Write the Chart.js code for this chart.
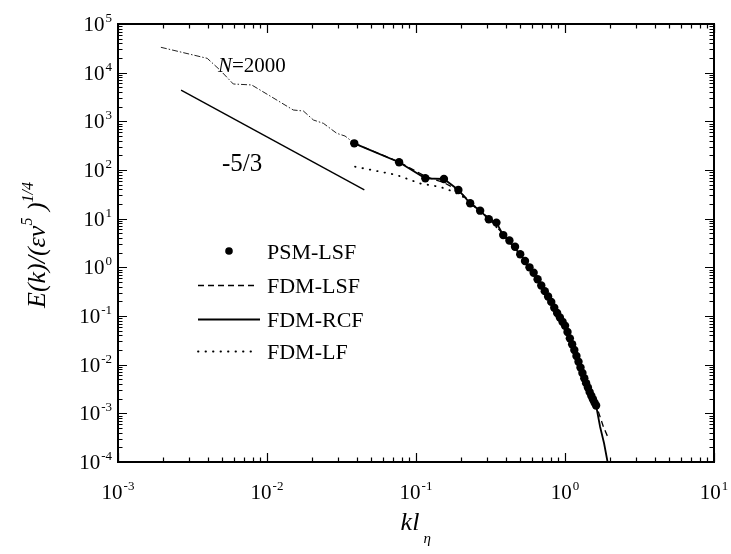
<!DOCTYPE html>
<html>
<head>
<meta charset="utf-8">
<script src="https://cdn.jsdelivr.net/npm/chart.js@4/dist/chart.umd.min.js"></script>
<style>
  html, body { margin: 0; padding: 0; background: #fff; }
  #wrap { width: 731px; height: 554px; }
</style>
</head>
<body>
<div id="wrap"><canvas id="c" width="731" height="554"></canvas></div>
<script>
// Energy spectra, normalised wavenumber k*l_eta vs E(k)/(eps*nu^5)^(1/4)

// PSM-LSF symbols
const psmK = [0.0385, 0.077, 0.1155, 0.154, 0.1925, 0.231, 0.2695, 0.308, 0.3465, 0.385,
  0.4235, 0.462, 0.5005, 0.539, 0.5775, 0.616, 0.6545, 0.693, 0.7315, 0.77,
  0.8085, 0.847, 0.8855, 0.924, 0.9625, 1.001, 1.0395, 1.078, 1.1165, 1.155,
  1.1935, 1.232, 1.2705, 1.309, 1.3475, 1.386, 1.4245, 1.463, 1.5015, 1.54,
  1.5785, 1.617];
const psmE = [353, 144, 67.5, 65.3, 38.8, 20.7, 14.6, 9.7, 8.3, 4.6,
  3.55, 2.65, 1.86, 1.35, 1.0, 0.776, 0.569, 0.422, 0.324, 0.251,
  0.195, 0.148, 0.115, 0.0933, 0.0759, 0.0631, 0.0468, 0.0347, 0.0263, 0.0200,
  0.0151, 0.0115, 0.00871, 0.00676, 0.00525, 0.00417, 0.00339, 0.00275, 0.00229, 0.00195,
  0.00166, 0.00145];

// FDM-LSF (dashed)
const lsfK = [0.0385, 0.077, 0.1155, 0.154, 0.1925, 0.231, 0.308, 0.385, 0.5005, 0.616,
  0.77, 0.924, 1.078, 1.232, 1.386, 1.54, 1.617, 1.675, 1.81, 1.97];
const lsfE = [353, 146, 74, 55, 38, 22, 10.2, 4.8, 1.9, 0.78,
  0.251, 0.0933, 0.0347, 0.0115, 0.0042, 0.00195, 0.00145, 0.00108, 0.00053, 0.00029];

// FDM-RCF (solid)
const rcfK = [0.0385, 0.077, 0.1155, 0.154, 0.1925, 0.231, 0.2695, 0.308, 0.3465, 0.385,
  0.5005, 0.616, 0.77, 0.924, 1.078, 1.232, 1.386, 1.54, 1.617, 1.72, 1.83, 1.92, 1.97];
const rcfE = [353, 144, 67.5, 65.3, 38.8, 20.7, 14.6, 9.7, 8.3, 4.6,
  1.86, 0.776, 0.251, 0.0933, 0.0347, 0.0115, 0.00417, 0.00195, 0.00145, 0.00053, 0.00024, 0.00011, 0.00007];

// FDM-LF (dotted)
const lfK = [0.039, 0.0742, 0.106, 0.145, 0.178, 0.207, 0.25, 0.308, 0.385, 0.5005,
  0.616, 0.77, 0.924, 1.078, 1.232, 1.386, 1.54, 1.617];
const lfE = [117, 79, 53, 45, 36, 28, 17.5, 10, 4.7, 1.88,
  0.78, 0.251, 0.0933, 0.035, 0.0116, 0.0042, 0.00195, 0.00145];

// N=2000 reference spectrum (dash-dot)
const refK = [0.00194, 0.00397, 0.00484, 0.00594, 0.00789, 0.0105, 0.0150, 0.01754,
  0.0205, 0.0239, 0.0294, 0.0334, 0.0386];
const refE = [33200, 19700, 11300, 5850, 5590, 3310, 1710, 1630,
  1064, 910, 567, 499, 353];

// -5/3 slope guide
const slopeK = [0.00265, 0.045];
const slopeE = [4400, 39.2];

// axis ticks
const xTickValues = [1e-3, 1e-2, 1e-1, 1, 10];
const xTickExps = ['-3', '-2', '-1', '0', '1'];
const yTickValues = [1e-4, 1e-3, 1e-2, 1e-1, 1, 10, 100, 1e3, 1e4, 1e5];
const yTickExps = ['-4', '-3', '-2', '-1', '0', '1', '2', '3', '4', '5'];

const legendLabels = ['PSM-LSF', 'FDM-LSF', 'FDM-RCF', 'FDM-LF'];

const SERIF = '"Liberation Serif", "Times New Roman", serif';

function pts(xs, ys) { return xs.map((x, i) => ({ x: x, y: ys[i] })); }

function drawPow(ctx, exp, x, y, align) {
  ctx.font = '21px ' + SERIF;
  const wb = ctx.measureText('10').width;
  ctx.font = '13px ' + SERIF;
  const we = ctx.measureText(exp).width;
  const total = wb + 1 + we;
  const left = align === 'center' ? x - total / 2 : x - total;
  ctx.textAlign = 'left';
  ctx.textBaseline = 'alphabetic';
  ctx.font = '21px ' + SERIF;
  ctx.fillText('10', left, y);
  ctx.font = '13px ' + SERIF;
  ctx.fillText(exp, left + wb + 1, y - 9);
}

const framePlugin = {
  id: 'frame',
  afterDatasetsDraw(chart) {
    const ctx = chart.ctx;
    const a = chart.chartArea;
    const xs = chart.scales.x, ys = chart.scales.y;
    ctx.save();
    ctx.strokeStyle = '#000';
    ctx.fillStyle = '#000';
    // frame
    ctx.lineWidth = 2;
    ctx.strokeRect(a.left, a.top, a.right - a.left, a.bottom - a.top);
    // ticks on all four sides, pointing inward
    ctx.lineWidth = 1.2;
    ctx.beginPath();
    for (let d = -3; d <= 1; d++) {
      for (let m = 1; m <= 9; m++) {
        const v = m * Math.pow(10, d);
        if (v > 10 * 1.0001) break;
        const px = Math.round(xs.getPixelForValue(v)) + 0.5;
        const len = m === 1 ? 9 : 4.5;
        ctx.moveTo(px, a.bottom); ctx.lineTo(px, a.bottom - len);
        ctx.moveTo(px, a.top); ctx.lineTo(px, a.top + len);
      }
    }
    for (let d = -4; d <= 5; d++) {
      for (let m = 1; m <= 9; m++) {
        const v = m * Math.pow(10, d);
        if (v > 1e5 * 1.0001) break;
        const py = Math.round(ys.getPixelForValue(v)) + 0.5;
        const len = m === 1 ? 9 : 4.5;
        ctx.moveTo(a.left, py); ctx.lineTo(a.left + len, py);
        ctx.moveTo(a.right, py); ctx.lineTo(a.right - len, py);
      }
    }
    ctx.stroke();

    // tick labels
    xTickValues.forEach((v, i) => {
      drawPow(ctx, xTickExps[i], xs.getPixelForValue(v), a.bottom + 37, 'center');
    });
    yTickValues.forEach((v, i) => {
      drawPow(ctx, yTickExps[i], 112, ys.getPixelForValue(v) + 7, 'right');
    });

    // x title: k l_eta
    ctx.textAlign = 'left';
    ctx.textBaseline = 'alphabetic';
    ctx.font = 'italic 26px ' + SERIF;
    const kl = 'kl';
    const wkl = ctx.measureText(kl).width;
    const xc = 414;
    ctx.fillText(kl, xc - wkl / 2 - 4, 530);
    ctx.font = 'italic 15px ' + SERIF;
    ctx.fillText('\u03B7', xc + wkl / 2 + 0, 543);

    // y title: E(k)/(eps nu^5)^(1/4), rotated
    ctx.save();
    ctx.translate(45, 245);
    ctx.rotate(-Math.PI / 2);
    const parts = [
      { t: 'E(k)/(\u03B5\u03BD', f: 'italic 26px ', dy: 0 },
      { t: '5', f: 'italic 16px ', dy: -13 },
      { t: ' )', f: 'italic 26px ', dy: 0 },
      { t: '1/4', f: 'italic 16px ', dy: -12 }
    ];
    let tw = 0;
    parts.forEach(p => { ctx.font = p.f + SERIF; p.w = ctx.measureText(p.t).width; tw += p.w; });
    let cx = -tw / 2;
    parts.forEach(p => { ctx.font = p.f + SERIF; ctx.fillText(p.t, cx, p.dy); cx += p.w; });
    ctx.restore();

    // annotations
    ctx.font = '25px ' + SERIF;
    ctx.fillText('-5/3', 222, 171);
    ctx.font = 'italic 21px ' + SERIF;
    ctx.fillText('N', 218, 72);
    const wn = ctx.measureText('N').width;
    ctx.font = '21px ' + SERIF;
    ctx.fillText('=2000', 218 + wn, 72);

    // legend
    const rows = [251, 285, 319, 351];
    const dsets = chart.data.datasets;
    ctx.font = '22px ' + SERIF;
    for (let i = 0; i < 4; i++) {
      const ds = dsets[i];
      const y = rows[i];
      if (i === 0) {
        ctx.beginPath();
        ctx.arc(229, y, 3.8, 0, Math.PI * 2);
        ctx.fill();
      } else {
        ctx.save();
        ctx.lineWidth = ds.borderWidth;
        ctx.setLineDash(ds.borderDash || []);
        ctx.lineCap = ds.borderCapStyle || 'butt';
        ctx.beginPath();
        ctx.moveTo(198, y + 0.5);
        ctx.lineTo(i === 2 ? 260 : 255, y + 0.5);
        ctx.stroke();
        ctx.restore();
      }
      ctx.fillText(legendLabels[i], 267, y + 8);
    }
    ctx.restore();
  }
};

new Chart(document.getElementById('c'), {
  type: 'scatter',
  data: {
    datasets: [
      { label: legendLabels[0], data: pts(psmK, psmE), showLine: false,
        pointRadius: 4.2, pointBackgroundColor: '#000', pointBorderWidth: 0, borderColor: '#000' },
      { label: legendLabels[1], data: pts(lsfK, lsfE), showLine: true, pointRadius: 0,
        borderColor: '#000', borderWidth: 1.3, borderDash: [6, 4], tension: 0 },
      { label: legendLabels[2], data: pts(rcfK, rcfE), showLine: true, pointRadius: 0,
        borderColor: '#000', borderWidth: 1.8, tension: 0 },
      { label: legendLabels[3], data: pts(lfK, lfE), showLine: true, pointRadius: 0,
        borderColor: '#000', borderWidth: 1.8, borderDash: [0.5, 7], borderCapStyle: 'round', tension: 0 },
      { label: 'N=2000', data: pts(refK, refE), showLine: true, pointRadius: 0,
        borderColor: '#222', borderWidth: 1, borderDash: [6, 2, 1.5, 2], tension: 0 },
      { label: '-5/3', data: pts(slopeK, slopeE), showLine: true, pointRadius: 0,
        borderColor: '#000', borderWidth: 1.4, tension: 0 }
    ]
  },
  options: {
    responsive: false,
    maintainAspectRatio: false,
    devicePixelRatio: 1,
    animation: false,
    layout: { padding: { left: 118, top: 24, right: 17, bottom: 92 } },
    plugins: { legend: { display: false }, tooltip: { enabled: false } },
    scales: {
      x: { type: 'logarithmic', min: 1e-3, max: 10, display: false },
      y: { type: 'logarithmic', min: 1e-4, max: 1e5, display: false }
    }
  },
  plugins: [framePlugin]
});
</script>
</body>
</html>
